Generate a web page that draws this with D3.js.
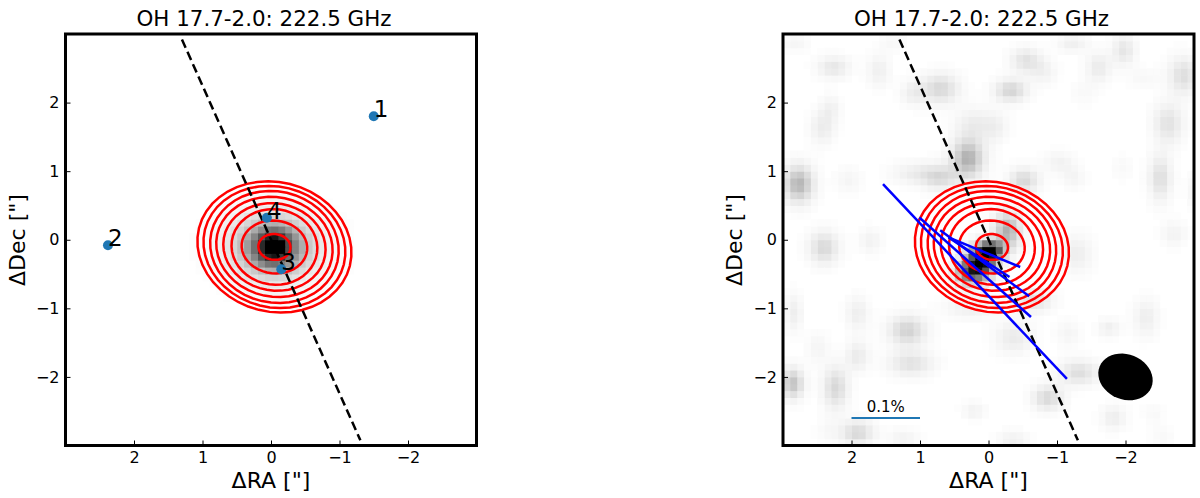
<!DOCTYPE html>
<html><head><meta charset="utf-8">
<script src="https://cdn.jsdelivr.net/npm/d3@7"></script>
<style>html,body{margin:0;padding:0;background:#fff}svg{display:block}text{font-family:"DejaVu Sans",sans-serif;fill:#000}</style>
</head><body>
<svg id="c" width="1200" height="498"></svg>
<script>
const titleText = "OH 17.7-2.0: 222.5 GHz";
const xLabel = 'ΔRA ["]', yLabel = 'ΔDec ["]';
const tickVals = [2,1,0,-1,-2];
const cellEdges = d3.range(-30,30).map(i=>i/10);
const peakSpread = 1.3;
// [RA, Dec, level, widthRA, widthDec]
const leftPeaks = [[-0.03,-0.1,0.5,0.12,0.12],[-0.03,-0.1,0.68,0.33,0.25]];
const rightPeaks = [
[2.82,2.88,.08,.1,.07],[1.41,2.88,.06,.1,.07],[2.27,2.52,.17,.13,.09],[1.61,2.47,.12,.09,.13],[.71,2.21,.25,.15,.12],
[1.11,2.14,.12,.1,.1],[2.31,1.92,.1,.08,.1],[2.43,1.64,.14,.1,.13],[.31,1.19,.42,.13,.16],[.22,1.7,.13,.15,.13],
[2.78,.82,.4,.12,.15],[1.04,.97,.14,.2,.09],[.71,.91,.2,.13,.1],[2.05,.87,.08,.1,.1],[2.41,-.11,.25,.12,.13],
[1.73,-.01,.1,.09,.1],[2.85,-1.06,.13,.07,.15],[1.92,-1.07,.13,.09,.13],[1.19,-1.32,.28,.15,.12],[1.14,-1.8,.2,.18,.1],
[1.92,-1.69,.15,.09,.12],[2.5,-1.57,.08,.09,.12],[2.87,-2.09,.35,.09,.12],[2.24,-2.15,.25,.1,.17],[1.92,-2.81,.25,.13,.1],
[2.35,-2.78,.05,.1,.1],[1.25,-2.9,.1,.12,.08],[.22,-2.49,.1,.09,.07],[-1.22,2.87,.12,.12,.07],[-.54,2.62,.2,.12,.1],
[-.32,2.18,.27,.13,.09],[-.8,2.45,.1,.1,.1],[-1.97,2.77,.18,.09,.12],[-1.6,2.52,.15,.1,.12],[-1.38,2.15,.05,.1,.1],
[-2.84,2.4,.22,.12,.15],[-2.26,2.36,.06,.12,.08],[-2.62,1.7,.2,.12,.16],[-2.5,.91,.22,.09,.18],[-1.02,1.13,.1,.12,.09],
[-1.24,.91,.08,.09,.09],[-1.95,1.06,.05,.08,.1],[-.51,.87,.25,.12,.1],[-.1,1.64,.1,.1,.12],[-2.7,.09,.1,.1,.1],
[.12,-.33,.95,.12,.12],[-.02,-.15,.85,.1,.07],[-.27,.14,.42,.11,.15],[.31,-.49,.5,.11,.1],[-.65,-.88,.2,.15,.09],
[.27,-.98,.12,.2,.09],[-1.29,-.2,.13,.12,.15],[-.36,-1.42,.15,.15,.13],[-1.31,-1.93,.22,.16,.1],[-.86,-2.3,.25,.12,.1],
[-1.16,-1.36,.08,.1,.1],[-1.75,-1.28,.12,.09,.07],[-2.29,-1.13,.13,.1,.15],[-1.82,-2.59,.13,.1,.1],[-.35,-2.93,.12,.12,.08],
[-2.53,-2.88,.05,.1,.1],[-2.4,-2.53,.05,.08,.08],[-2.99,.72,.08,.06,.12]];
// contour semi-axes in arcsec and tilt in degrees, outer to inner
const contourA = [1.135,1.045,.945,.855,.75,.628,.48,.235];
const contourB = [.945,.88,.81,.725,.635,.55,.385,.188];
const contourTilt = [14,14,13,12,10,8,6,5];
const contourCentre = [-0.05,-0.105];
const axisLine = [[1.3,2.92],[-1.305,-2.925]];
const sources = [[-1.5,1.8,"1"],[2.38,-0.08,"2"],[-0.15,-0.43,"3"],[0.06,0.32,"4"]];
const polVectors = [
[1.54,.81,-1.145,-2.03],[1.01,.324,-.62,-1.127],[.705,.139,-.594,-.825],[.584,.032,-.307,-.543],[.584,.036,-.463,-.397]];
const beam = {ra:-2,dec:-2,a:.407,b:.329,tilt:22};
const scaleBar = {from:2,to:1,dec:-2.6,label:"0.1%"};

const svg = d3.select("#c");
const grey = d3.scaleSequential(d3.interpolateGreys).domain([0,1]);
const yS = d3.scaleLinear([3,-3],[34,445.5]);
const defs = svg.append("defs");
defs.append("filter").attr("id","soft").attr("x",0).attr("y",0).attr("width",1).attr("height",1)
  .append("feGaussianBlur").attr("stdDeviation",0.7);

function ellipsePts(cx,cy,a,b,deg){
  const p = deg*Math.PI/180;
  return d3.range(0,44).map(i=>{
    const t=i/44*2*Math.PI, dx=a*Math.cos(t)*Math.cos(p)-b*Math.sin(t)*Math.sin(p),
          dy=a*Math.cos(t)*Math.sin(p)+b*Math.sin(t)*Math.cos(p);
    return [cx-dx,cy-dy];
  });
}
function panel(id,range,peaks,extra){
  const x = d3.scaleLinear([3,-3],range);
  defs.append("clipPath").attr("id","clip"+id).append("rect")
    .attr("x",range[0]).attr("y",34).attr("width",range[1]-range[0]).attr("height",411.5);
  const g = svg.append("g");
  const cw = x(2.9)-x(3), ch = yS(2.9)-yS(3);
  const cells=[];
  cellEdges.forEach(ra=>cellEdges.forEach(dec=>{
    const cr=ra+.05, cd=dec+.05;
    const v=d3.sum(peaks,p=>p[2]*Math.exp(-.5*((cr-p[0])/(p[3]*peakSpread))**2-.5*((cd-p[1])/(p[4]*peakSpread))**2));
    if(v>.012) cells.push([ra,dec,Math.min(v,1)]);
  }));
  g.append("g").attr("clip-path",`url(#clip${id})`).append("g").attr("filter","url(#soft)")
   .selectAll("rect").data(cells).join("rect")
    .attr("x",d=>x(d[0]+.1)).attr("y",d=>yS(d[1]+.1))
    .attr("width",cw+.5).attr("height",ch+.5).attr("fill",d=>grey(d[2]));
  const line=d3.line().x(d=>x(d[0])).y(d=>yS(d[1]));
  contourA.forEach((a,i)=>{
    g.append("path").attr("d",line(ellipsePts(contourCentre[0],contourCentre[1],a,contourB[i],contourTilt[i]))+"Z")
      .attr("fill","none").attr("stroke","#ff0000").attr("stroke-width",2.5);
  });
  g.append("path").attr("d",line(axisLine)).attr("fill","none").attr("stroke","#000")
    .attr("stroke-width",2.5).attr("stroke-dasharray","9,4.5");
  extra(g,x,line);
  const fmt=d3.format("d");
  g.append("g").attr("transform","translate(0,445.5)")
    .call(d3.axisBottom(x).tickValues(tickVals).tickFormat(fmt).tickSize(-5).tickPadding(6.5))
    .call(s=>{s.select(".domain").remove();s.selectAll("text").attr("font-size",16).attr("font-family","DejaVu Sans");s.selectAll("line").attr("stroke-width",1)});
  g.append("g").attr("transform",`translate(${range[0]},0)`)
    .call(d3.axisLeft(yS).tickValues(tickVals).tickFormat(fmt).tickSize(-5).tickPadding(6))
    .call(s=>{s.select(".domain").remove();s.selectAll("text").attr("font-size",16).attr("font-family","DejaVu Sans");s.selectAll("line").attr("stroke-width",1)});
  g.append("rect").attr("x",range[0]).attr("y",34).attr("width",range[1]-range[0]).attr("height",411.5)
    .attr("fill","none").attr("stroke","#000").attr("stroke-width",3);
  const mid=(range[0]+range[1])/2;
  g.append("text").attr("x",mid-7).attr("y",26).attr("text-anchor","middle").attr("font-size",21.4).text(titleText);
  g.append("text").attr("x",mid).attr("y",488).attr("text-anchor","middle").attr("font-size",22).text(xLabel);
  g.append("text").attr("transform",`translate(${range[0]-41},240) rotate(-90)`).attr("text-anchor","middle").attr("font-size",22).text(yLabel);
}
panel("L",[65.5,476.5],leftPeaks,(g,x)=>{
  g.selectAll("circle").data(sources).join("circle").attr("cx",d=>x(d[0])).attr("cy",d=>yS(d[1])).attr("r",5).attr("fill","#1f77b4");
  g.selectAll("text.src").data(sources).join("text").attr("class","src").attr("x",d=>x(d[0])).attr("y",d=>yS(d[1])+1)
    .attr("font-size",23).text(d=>d[2]);
});
panel("R",[783,1194],rightPeaks,(g,x,line)=>{
  g.selectAll("line.pol").data(polVectors).join("line").attr("class","pol")
    .attr("x1",d=>x(d[0])).attr("y1",d=>yS(d[1])).attr("x2",d=>x(d[2])).attr("y2",d=>yS(d[3]))
    .attr("stroke","#0000ff").attr("stroke-width",2.5);
  g.append("path").attr("d",line(ellipsePts(beam.ra,beam.dec,beam.a,beam.b,beam.tilt))+"Z").attr("fill","#000");
  g.append("line").attr("x1",x(scaleBar.from)).attr("x2",x(scaleBar.to)).attr("y1",yS(scaleBar.dec)).attr("y2",yS(scaleBar.dec))
    .attr("stroke","#1f77b4").attr("stroke-width",2);
  g.append("text").attr("x",(x(scaleBar.from)+x(scaleBar.to))/2).attr("y",yS(scaleBar.dec)-6.5).attr("text-anchor","middle").attr("font-size",15).text(scaleBar.label);
});
</script>
</body></html>
